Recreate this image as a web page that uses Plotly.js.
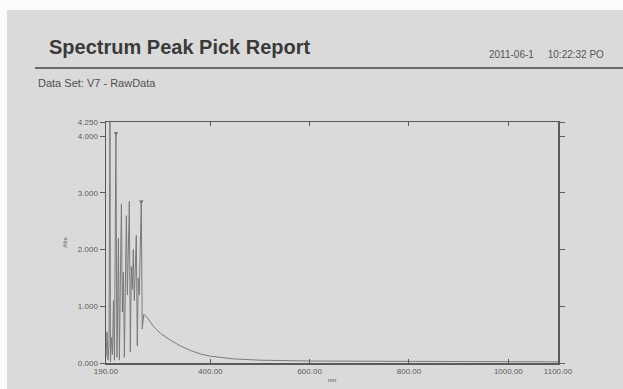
<!DOCTYPE html>
<html>
<head>
<meta charset="utf-8">
<script src="https://cdn.plot.ly/plotly-3.0.1.min.js"></script>
<style>
html,body{margin:0;padding:0;background:#fbfbfb;width:623px;height:389px;overflow:hidden;}
#chart{position:absolute;left:7px;top:10px;width:616px;height:379px;}
</style>
</head>
<body>
<div id="chart"></div>
<script>
// Spectrum data (wavelength nm, absorbance)
const wavelength = [190,192,194,196,198,199,201,203,205,207,210,212,213,215,217,219,221,223,225,227,229,231,233,235,237,239,241,243,245,247,249,251,253,255,257,259,261,263,266,275,285,300,320,340,360,380,400,450,500,600,800,1000,1100];
const absorbance = [0.10,0.55,0.05,0.30,4.40,0.02,0.45,0.15,1.10,0.05,4.05,0.10,0.60,2.20,0.05,1.50,2.80,0.90,1.60,0.10,1.80,2.60,1.20,1.90,2.85,0.20,1.70,1.30,2.00,1.10,1.60,2.25,0.30,1.50,1.20,1.90,2.85,0.60,0.86,0.78,0.65,0.52,0.40,0.30,0.22,0.16,0.12,0.07,0.05,0.035,0.025,0.02,0.02];
// Picked peaks
const peakNm = [210, 261];
const peakAbs = [4.05, 2.85];
// Tick labels
const xTickVals = [190, 400, 600, 800, 1000, 1100];
const xTickText = ["190.00","400.00","600.00","800.00","1000.00","1100.00"];
const yTickVals = [0, 1, 2, 3, 4, 4.25];
const yTickText = ["0.000","1.000","2.000","3.000","4.000","4.250"];

const bg = '#dadada';
const axisCol = '#5a5a5a';

const traces = [
  {x: wavelength, y: absorbance, type: 'scatter', mode: 'lines',
   line: {color: '#7a7a7a', width: 1}, hoverinfo: 'skip', showlegend: false},
  {x: peakNm, y: peakAbs, type: 'scatter', mode: 'markers',
   marker: {symbol: 'triangle-down', size: 4, color: '#666666'}, showlegend: false}
];

const layout = {
  width: 616, height: 379,
  paper_bgcolor: bg, plot_bgcolor: bg,
  margin: {l: 99, r: 65, t: 112, b: 26, pad: 0},
  font: {family: 'Liberation Sans, Arial, sans-serif', color: '#555555', size: 8},
  showlegend: false,
  xaxis: {
    range: [190, 1100], tickmode: 'array', tickvals: xTickVals, ticktext: xTickText,
    ticks: 'inside', ticklen: 4, tickcolor: axisCol, showline: true, linecolor: axisCol, linewidth: 1.5,
    mirror: 'ticks', showgrid: false, zeroline: false,
    tickfont: {size: 8, color: '#5a5a5a'},
    title: {text: 'nm', font: {size: 6, color: '#555555'}, standoff: 2}
  },
  yaxis: {
    range: [0, 4.25], tickmode: 'array', tickvals: yTickVals, ticktext: yTickText,
    ticks: 'outside', ticklen: 5, tickcolor: axisCol, showline: true, linecolor: axisCol, linewidth: 1.5,
    mirror: 'ticks', showgrid: false, zeroline: false,
    tickfont: {size: 8, color: '#5a5a5a'},
    title: {text: 'Abs', font: {size: 6, color: '#555555'}, standoff: 10}
  },
  shapes: [
    {type: 'line', xref: 'paper', yref: 'paper', x0: -0.157, x1: 1.15, y0: 1.224, y1: 1.224,
     line: {color: '#6a6a6a', width: 2}}
  ],
  annotations: [
    {text: '<b>Spectrum Peak Pick Report</b>', xref: 'paper', yref: 'paper', x: -0.13, y: 1.311,
     xanchor: 'left', yanchor: 'middle', showarrow: false,
     font: {size: 20, color: '#3a3a3a', family: 'Liberation Sans, Arial, sans-serif'}},
    {text: '2011-06-1&nbsp;&nbsp;&nbsp;&nbsp;&nbsp;10:22:32 PO', xref: 'paper', yref: 'paper', x: 0.843, y: 1.28,
     xanchor: 'left', yanchor: 'middle', showarrow: false,
     font: {size: 10, color: '#555555'}},
    {text: 'Data Set: V7 - RawData', xref: 'paper', yref: 'paper', x: -0.155, y: 1.162,
     xanchor: 'left', yanchor: 'middle', showarrow: false,
     font: {size: 11, color: '#505050'}}
  ]
};

Plotly.newPlot('chart', traces, layout, {staticPlot: true, displayModeBar: false});
</script>
</body>
</html>
